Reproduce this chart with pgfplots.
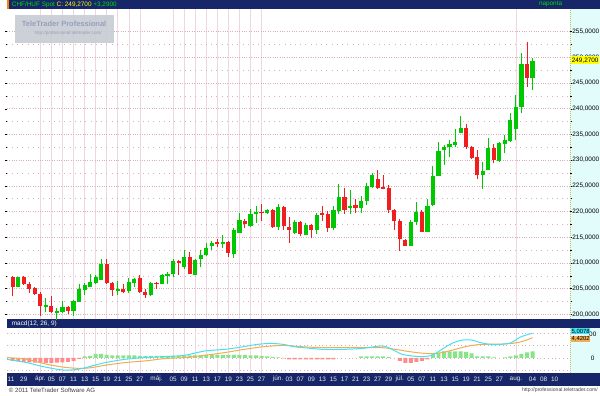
\documentclass[border=0pt]{standalone}
\usepackage{fontspec}
\setmainfont{Liberation Sans}
\usepackage{pgfplots}
\pgfplotsset{compat=1.18}
\usepackage{pgfplotstable}

\definecolor{navy}{RGB}{22,38,104}
\definecolor{tgreen}{RGB}{0,225,0}
\definecolor{tyellow}{RGB}{255,255,0}
\definecolor{panelcyan}{RGB}{226,252,252}
\definecolor{gridpink}{RGB}{240,214,224}
\definecolor{dotpink}{RGB}{215,175,190}
\definecolor{cgreen}{RGB}{0,200,0}
\definecolor{cred}{RGB}{240,30,30}
\definecolor{macdcyan}{RGB}{70,225,240}
\definecolor{sigorange}{RGB}{242,172,82}
\definecolor{histred}{RGB}{255,140,140}
\definecolor{histgreen}{RGB}{135,228,135}
\definecolor{wmgray}{RGB}{200,204,212}
\definecolor{wmtext}{RGB}{150,160,188}
\definecolor{datetext}{RGB}{232,232,232}

% daily candles, i = trading day (0 = 25 Mar 2011)
\pgfplotstableread{
i O H L C
1 205.5 207.3 205.3 207.2
6 201.5 203.1 200.4 201.8
8 200.4 201.2 199.0 200.7
9 200.6 202.7 200.3 201.5
11 200.8 202.8 199.7 202.6
12 202.6 205.9 202.5 204.9
13 204.9 206.2 203.8 205.7
14 205.5 207.9 205.3 206.3
15 206.3 207.6 206.0 207.3
16 206.8 210.8 206.7 209.9
19 204.6 206.5 203.8 204.9
21 204.7 207.0 204.1 206.3
22 206.3 207.0 205.4 206.8
25 203.8 206.3 203.6 206.2
27 206.0 207.8 205.9 207.6
28 207.6 208.3 205.9 207.9
29 207.9 210.8 207.2 210.3
31 209.4 212.6 208.9 211.2
33 207.8 210.8 207.6 210.6
34 210.8 212.6 209.2 211.6
35 211.7 213.8 211.4 212.9
36 213.4 214.2 212.6 213.8
38 213.8 215.5 213.0 214.0
40 211.9 216.9 211.0 216.4
41 216.0 219.7 215.8 218.3
43 217.2 220.6 217.1 219.6
44 219.7 221.1 217.7 220.0
46 219.9 220.6 219.5 220.3
48 217.1 221.4 216.5 220.8
51 216.0 218.4 215.6 218.0
53 215.6 217.8 215.6 217.4
55 216.5 219.8 215.6 219.3
58 216.9 221.0 216.5 220.3
59 220.3 225.3 219.5 222.9
61 220.8 224.2 219.5 221.0
63 220.8 223.0 219.8 222.1
64 222.1 225.6 221.2 224.9
65 224.8 227.5 224.6 227.2
72 213.5 218.4 213.4 218.0
73 218.0 221.9 217.4 219.9
75 216.1 222.4 216.0 221.1
76 221.4 228.8 221.1 227.0
77 227.0 233.6 226.9 231.8
78 232.0 232.9 229.1 232.5
79 232.6 234.0 230.7 233.1
80 233.1 236.0 232.5 233.5
81 235.4 238.5 235.2 236.3
85 227.2 229.7 224.4 227.8
86 228.1 234.4 228.0 232.3
88 229.9 233.6 229.7 233.3
89 233.3 234.9 231.3 233.9
90 233.9 239.2 233.6 237.9
91 236.2 242.6 233.9 240.3
92 240.4 250.9 239.2 248.7
94 246.1 249.8 243.7 249.3
}\upc

\pgfplotstableread{
i O H L C
0 207.3 207.5 203.6 205.5
2 207.3 207.4 205.8 206.0
3 206.0 206.3 204.2 205.1
4 205.1 205.4 203.8 204.0
5 204.0 204.4 199.7 201.7
7 201.7 203.6 200.3 200.5
10 201.5 201.7 200.1 200.8
17 209.9 210.8 206.0 206.2
18 206.2 206.3 203.5 204.9
20 204.9 205.9 204.1 204.4
23 207.0 207.6 204.2 204.4
24 204.4 204.9 203.1 203.8
26 206.2 206.3 204.9 206.0
30 210.3 210.5 207.6 210.1
32 211.2 212.1 207.8 207.9
37 214.0 214.6 213.1 213.8
39 214.0 214.2 211.2 212.1
42 218.2 218.5 216.8 217.6
45 220.0 221.5 218.2 219.8
47 220.4 220.6 216.9 217.1
49 220.8 221.0 216.5 217.2
50 217.1 219.0 213.9 216.5
52 218.0 218.2 215.2 215.8
54 217.4 217.6 214.8 216.5
56 219.7 221.1 218.2 219.5
57 219.5 220.1 216.1 216.9
60 222.9 224.6 219.5 220.4
62 221.3 222.4 219.8 220.8
66 226.4 228.0 224.4 224.7
67 224.8 227.2 224.3 224.4
68 224.5 225.1 219.8 220.4
69 220.4 220.6 216.5 218.2
70 218.2 218.5 212.4 214.7
71 214.4 214.7 213.4 213.5
74 219.9 220.3 216.0 216.1
82 236.3 237.0 232.1 232.6
83 232.6 232.8 230.2 230.6
84 230.6 232.0 226.3 227.2
87 232.3 233.1 229.4 230.1
93 248.7 253.0 244.3 246.0
}\dnc

% macd histogram
\pgfplotstableread{
i h
0 -0.6
1 -0.7
2 -0.8
3 -0.9
4 -0.95
5 -0.95
6 -1.0
7 -1.0
8 -0.95
9 -0.9
10 -0.8
11 -0.6
12 -0.2
13 0.3
14 0.4
15 0.8
16 0.8
17 0.6
18 0.5
19 0.5
20 0.5
21 0.5
22 0.5
23 0.4
24 0.4
25 0.4
26 0.4
27 0.4
28 0.4
29 0.4
30 0.4
31 0.5
32 0.5
33 0.5
34 0.5
35 0.6
36 0.6
37 0.6
38 0.6
39 0.6
40 0.6
41 0.6
42 0.6
43 0.5
44 0.5
45 0.4
46 0.3
47 0.2
48 0.1
49 -0.1
50 -0.3
51 -0.3
52 -0.3
53 -0.3
54 -0.3
55 -0.3
56 -0.3
57 -0.3
58 -0.3
63 0.3
64 0.3
65 0.3
66 0.3
67 0.3
68 0.2
70 -0.6
71 -1.0
72 -1.0
73 -0.8
74 -0.6
75 -0.3
76 0.7
77 1.0
78 1.3
79 1.3
80 1.3
81 1.3
82 1.2
83 0.9
84 0.3
85 0.3
86 0.3
87 0.1
89 0.1
90 0.3
91 0.5
92 0.8
93 1.1
94 1.3
}\hist

\pgfplotstableread{
i v
-1.07 -0.27
2.5 -0.93
4.9 -1.6
7.9 -2.27
9.65 -2.47
12.0 -2.27
14.4 -1.6
16.8 -0.93
20.4 -0.27
24.0 0.07
27.5 0.27
31.1 0.53
34.7 1.4
38.3 1.73
40.6 2.07
44.2 2.73
46.6 2.93
49.0 2.73
50.8 2.27
52.6 2.07
56.1 1.73
59.7 1.73
63.3 1.93
66.3 2.4
67.5 2.27
69.2 1.4
70.4 0.73
72.2 0.4
74.0 0.27
75.8 0.53
77.6 1.73
79.4 2.93
81.2 3.6
83.0 3.6
84.7 3.07
86.5 2.73
88.3 2.75
90.1 3.07
91.9 4.27
94.0 5.0
}\macdl

\pgfplotstableread{
i v
-1.07 0.07
2.5 -0.27
6.1 -1.27
9.65 -1.93
12.6 -2.13
14.4 -1.93
16.8 -1.47
20.4 -0.93
24.0 -0.6
27.5 -0.13
31.1 0.07
34.7 0.53
38.3 1.07
41.8 1.73
45.4 2.27
49.0 2.53
52.6 2.25
56.1 2.07
59.7 2.07
63.3 2.07
66.9 2.07
69.2 1.73
72.2 1.2
75.2 0.87
77.6 1.07
80.0 1.73
82.4 2.4
84.7 2.73
88.3 2.8
90.7 3.0
92.5 3.45
94.0 4.1
}\sigl

\newcommand{\sm}{\fontsize{6.5}{7}\selectfont}

\begin{document}
\begin{tikzpicture}[x=1bp,y=1bp]
\fill[white] (0,0) rectangle (600,400);
\fill[panelcyan] (570,77) rectangle (600,391);
\fill[panelcyan] (570,23) rectangle (600,68);
\fill[navy] (0,391) rectangle (600,400);
\fill[orange] (0,391) rectangle (2,400);
\fill[navy] (0,68) rectangle (600,77);
\fill[navy] (0,10) rectangle (600,23);

% price panel
\begin{axis}[
  at={(0bp,77bp)}, anchor=south west, scale only axis,
  width=570bp, height=314bp,
  xmin=-1.073, xmax=100.84, ymin=199.04, ymax=259.42,
  axis line style={draw=none},
  xtick={5,7,9,11,13,15,17,19,21,23,29,31,33,35,37,39,41,43,45,91},
  xticklabels={}, xtick style={draw=none},
  xmajorgrids, major x grid style={gridpink, line width=0.6bp},
  ytick={200,205,...,255},
  yticklabels={{200,0000},{205,0000},{210,0000},{215,0000},{220,0000},{225,0000},
    {230,0000},{235,0000},{240,0000},{245,0000},{250,0000},{255,0000}},
  minor ytick={202.5,207.5,...,252.5},
  ymajorgrids, yminorgrids,
  major y grid style={dotpink, line width=0.7bp, dash pattern=on 0.8bp off 1.6bp},
  minor y grid style={dotpink, line width=0.7bp, dash pattern=on 0.8bp off 4.5bp},
  extra y ticks={210,225,235,250}, extra y tick labels={},
  extra y tick style={grid=major, major grid style={gridpink, line width=0.8bp, solid}},
  yticklabel pos=right, tick align=outside,
  ytick style={black, line width=0.5bp},
  major tick length=2bp, minor tick length=1.2bp,
  yticklabel style={font=\sm, anchor=west, inner sep=0.4bp, xshift=-0.5bp},
]
% wicks
\addplot[draw=none, mark=none, error bars/.cd, y dir=plus, y explicit,
  error mark=none, error bar style={line width=1bp, draw=cgreen}]
  table[x=i, y=L, y error plus expr=\thisrow{H}-\thisrow{L}] {\upc};
\addplot[draw=none, mark=none, error bars/.cd, y dir=plus, y explicit,
  error mark=none, error bar style={line width=1bp, draw=cred}]
  table[x=i, y=L, y error plus expr=\thisrow{H}-\thisrow{L}] {\dnc};
% bodies
\addplot[draw=none, mark=-, mark size=2.1bp, mark options={draw=cgreen, line width=1bp},
  error bars/.cd, y dir=plus, y explicit, error mark=none,
  error bar style={line width=4.2bp, draw=cgreen}]
  table[x=i, y=O, y error plus expr=\thisrow{C}-\thisrow{O}] {\upc};
\addplot[draw=none, mark=-, mark size=2.1bp, mark options={draw=cred, line width=1bp},
  error bars/.cd, y dir=plus, y explicit, error mark=none,
  error bar style={line width=4.2bp, draw=cred}]
  table[x=i, y=C, y error plus expr=\thisrow{O}-\thisrow{C}] {\dnc};
\end{axis}

% macd panel
\begin{axis}[
  at={(0bp,23bp)}, anchor=south west, scale only axis,
  width=570bp, height=45bp,
  xmin=-1.073, xmax=100.84, ymin=-3, ymax=6,
  axis line style={draw=none},
  xtick={-0.3,2,5,7,9,11,13,15,17,19,21,23,26,29,31,33,35,37,39,41,43,45,48,50,52,54,56,58,60,62,64,66,68,70,72,74,76,78,80,82,84,86,88,91,94,96,98},
  xticklabels={11,29,ápr.,05,07,11,13,15,19,21,25,27,máj.,05,09,11,13,17,19,23,25,27,jún.,03,07,09,13,15,17,21,23,27,29,júl.,05,07,11,13,15,19,21,25,27,aug.,04,08,10},
  xtick style={draw=none},
  xticklabel style={font=\sm, text=datetext, anchor=center, inner sep=0.5bp, yshift=-6.5bp},
  extra x ticks={5,7,9,11,13,15,17,19,21,23,29,31,33,35,37,39,41,43,45,91},
  extra x tick labels={},
  extra x tick style={grid=major, major grid style={gridpink, line width=0.6bp}},
  ytick={-2.5,0,2.5,5}, yticklabels={}, ytick style={draw=none},
  ymajorgrids,
  major y grid style={dotpink, line width=0.7bp, dash pattern=on 0.8bp off 3bp},
]
\addplot[ybar, bar width=4bp, bar shift=0pt, draw=none, fill=histgreen,
  y filter/.expression={y>0 ? y : nan}] table[x=i, y=h] {\hist};
\addplot[ybar, bar width=4bp, bar shift=0pt, draw=none, fill=histred,
  y filter/.expression={y<0 ? y : nan}] table[x=i, y=h] {\hist};
\addplot[sigorange, line width=1bp, smooth] table[x=i, y=v] {\sigl};
\addplot[macdcyan, line width=1bp, smooth] table[x=i, y=v] {\macdl};
\end{axis}

% panel borders
\draw[olive!50, line width=0.6bp, dash pattern=on 1bp off 1bp] (570,77) -- (570,391);
\draw[olive!50, line width=0.6bp, dash pattern=on 1bp off 1bp] (570,23) -- (570,68);

% last price and macd value boxes
\node[fill=tyellow, inner sep=0.6bp, minimum width=28bp, minimum height=8bp, font=\sm]
  at (585,339) {249,2700};
\node[anchor=east, font=\sm, inner sep=0.5bp] at (597,62) {00};
\node[anchor=east, font=\sm, inner sep=0.5bp] at (595,38) {0};
\node[fill=macdcyan, inner sep=0.3bp, minimum width=19bp, minimum height=6bp,
  font=\fontsize{6}{6}\selectfont] at (580.5,64.8) {5,0078};
\node[fill=sigorange, inner sep=0.3bp, minimum width=19bp, minimum height=6bp,
  font=\fontsize{6}{6}\selectfont] at (580.5,57.6) {4,4202};

% titles
\node[anchor=west, font=\sm, inner sep=0] at (5,395.5)
  {\textcolor{tgreen}{CHF/HUF Spot} \textcolor{tyellow}{C: 249,2700} \textcolor{tgreen}{+3,2900}};
\node[font=\sm, text=tgreen, inner sep=0] at (550,395.5) {naponta};
\node[anchor=west, font=\sm, text=white, inner sep=0] at (5,72.5) {macd(12, 26, 9)};

% watermark
\fill[wmgray, opacity=0.92] (8,357) rectangle (108,385);
\node[font=\fontsize{7.6}{8}\selectfont\bfseries, text=wmtext, inner sep=0] at (58,376) {TeleTrader Professional};
\node[font=\fontsize{4.6}{5}\selectfont, text=wmtext, inner sep=0] at (62,366) {http://professional.teletrader.com/};

% footer
\node[anchor=west, font=\fontsize{6.2}{7}\selectfont, text=black!75, inner sep=0] at (2,5) {© 2011 TeleTrader Software AG};
\node[anchor=east, font=\fontsize{5.2}{6}\selectfont, text=black!75, inner sep=0] at (598,5) {http://professional.teletrader.com/};
\end{tikzpicture}
\end{document}
